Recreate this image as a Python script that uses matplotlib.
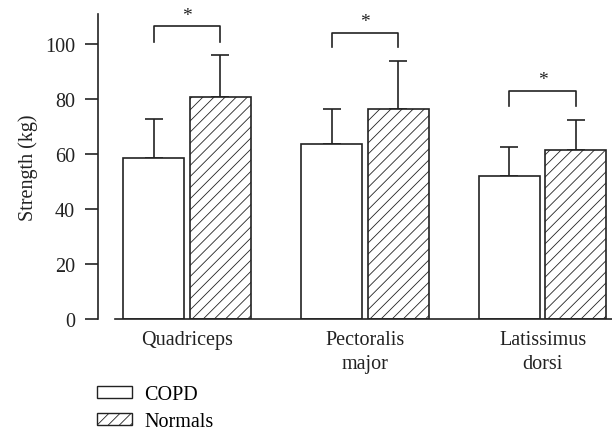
import matplotlib
matplotlib.use("Agg")
import matplotlib.pyplot as plt
from matplotlib.patches import Patch
import numpy as np

categories = ["Quadriceps", "Pectoralis\nmajor", "Latissimus\ndorsi"]
copd = [58.5, 63.5, 52.0]
copd_err = [14.2, 13.0, 10.4]
normals = [80.8, 76.5, 61.5]
normals_err = [15.1, 17.3, 11.0]
sig_bracket_y = [106.4, 104.1, 83.0]
sig_bracket_leg = [5.6, 5.3, 5.4]
yticks = [0, 20, 40, 60, 80, 100]

plt.rcParams['font.family'] = ['Liberation Serif', 'DejaVu Serif']
plt.rcParams['hatch.linewidth'] = 0.6

fs = 14.5
fig = plt.figure(figsize=(6.12, 4.35), dpi=100)
ax = fig.add_axes([98/612, 1-320/435, 1-98/612, (320-15)/435])

x = np.arange(len(categories))
w = 0.343
off = 0.187
lc = '#222222'
tc = '#222222'
ax.bar(x - off, copd, w, color='white', edgecolor=lc, linewidth=1.2, zorder=2)
ax.bar(x + off, normals, w, color='white', edgecolor=lc, linewidth=1.2, hatch='///', zorder=2)
ax.errorbar(x - off, copd, yerr=[np.zeros(3), copd_err], fmt='none', ecolor=lc,
            elinewidth=1.2, capsize=6.3, capthick=1.2, zorder=1)
ax.errorbar(x + off, normals, yerr=[np.zeros(3), normals_err], fmt='none', ecolor=lc,
            elinewidth=1.2, capsize=6.3, capthick=1.2, zorder=1)

for i in range(3):
    xl, xr = x[i] - off, x[i] + off
    yb = sig_bracket_y[i]
    ax.plot([xl, xl, xr, xr], [yb - sig_bracket_leg[i], yb, yb, yb - sig_bracket_leg[i]],
            color=lc, lw=1.2, clip_on=False)
    ax.text(x[i], yb + 1.0, '*', ha='center', va='bottom', fontsize=14, color=lc)

ax.set_xlim(-0.5, 2.39)
ax.set_ylim(0, 110.9)
ax.set_yticks(yticks)
ax.set_xticks(x)
ax.set_xticklabels(categories, fontsize=fs, color=tc, linespacing=1.35)
ax.tick_params(axis='x', length=0, pad=8)
ax.tick_params(axis='y', direction='out', length=9.5, width=1.2, color=lc,
               labelsize=fs, labelcolor=tc, pad=7)
for s in ['top', 'right']:
    ax.spines[s].set_visible(False)
ax.spines['left'].set_linewidth(1.2)
ax.spines['bottom'].set_linewidth(1.2)
ax.spines['left'].set_color(lc)
ax.spines['bottom'].set_color(lc)
ax.spines['bottom'].set_bounds(-0.404, 2.39)
ax.set_ylabel('Strength (kg)', fontsize=fs, color=tc, labelpad=5)

handles = [Patch(facecolor='white', edgecolor=lc, linewidth=1.0, label='COPD'),
           Patch(facecolor='white', edgecolor=lc, linewidth=1.0, hatch='///', label='Normals')]
fig.legend(handles=handles, loc='upper left', bbox_to_anchor=(97/612, 1-386/435),
           frameon=False, fontsize=fs, handlelength=1.75, handleheight=0.55,
           handletextpad=0.6, labelspacing=0.42, borderaxespad=0, borderpad=0)

fig.savefig('out.png', dpi=100)
